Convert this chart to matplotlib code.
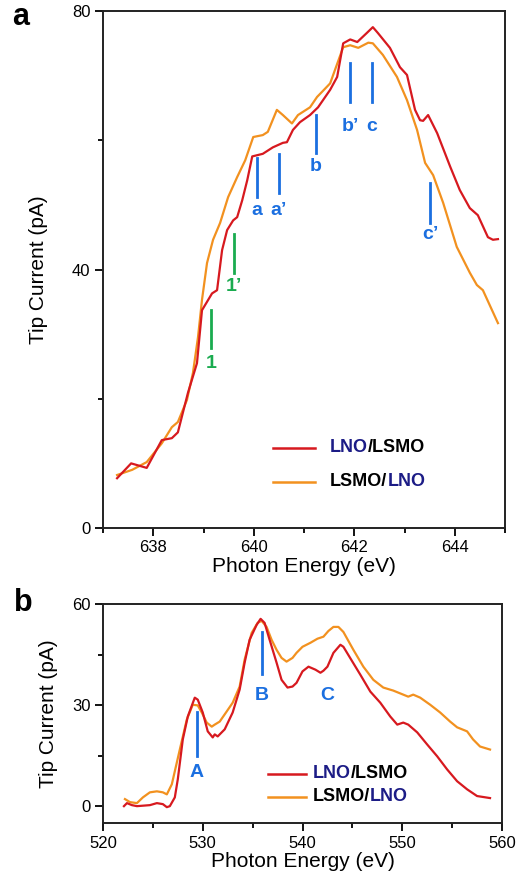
import matplotlib
matplotlib.use("Agg")
import matplotlib.pyplot as plt
from matplotlib.ticker import MultipleLocator

plt.rcParams['font.family'] = ['Liberation Sans', 'DejaVu Sans']

RED = '#d7191f'
ORANGE = '#f2911f'
BLUE = '#1b6fe0'
GREEN = '#1aab4f'
NAVY = '#1c1c86'

# ---- panel a: Mn L3 edge ----
a_red_x = [637.28, 637.56, 637.87, 638.17, 638.37, 638.49, 638.69, 638.87, 638.97, 639.07,
           639.17, 639.27, 639.37, 639.47, 639.59, 639.67, 639.77, 639.87, 639.97, 640.18,
           640.38, 640.58, 640.66, 640.78, 640.92, 641.12, 641.28, 641.52, 641.66, 641.78,
           641.92, 642.06, 642.25, 642.37, 642.47, 642.71, 642.91, 643.05, 643.21, 643.31,
           643.37, 643.47, 643.65, 643.91, 644.10, 644.30, 644.46, 644.66, 644.76, 644.86]
a_red_y = [7.7, 10.0, 9.3, 13.6, 13.9, 14.8, 20.9, 25.5, 33.7, 35.0,
           36.3, 36.8, 43.0, 46.1, 47.6, 48.1, 50.7, 53.8, 57.5, 57.9,
           58.9, 59.6, 59.7, 61.6, 62.8, 63.9, 65.1, 67.8, 69.8, 75.0,
           75.6, 75.2, 76.6, 77.5, 76.6, 74.3, 71.3, 70.1, 64.7, 63.1,
           63.0, 63.9, 61.1, 55.9, 52.3, 49.5, 48.4, 45.0, 44.6, 44.7]

a_orange_x = [637.28, 637.58, 637.87, 638.17, 638.37, 638.49, 638.67, 638.79, 638.89, 638.97,
              639.07, 639.19, 639.33, 639.49, 639.67, 639.83, 639.99, 640.18, 640.28, 640.46,
              640.58, 640.76, 640.88, 641.12, 641.26, 641.36, 641.52, 641.78, 641.92, 642.08,
              642.28, 642.37, 642.57, 642.85, 643.05, 643.25, 643.41, 643.57, 643.77, 644.04,
              644.30, 644.44, 644.56, 644.86]
a_orange_y = [8.2, 9.0, 10.2, 13.1, 15.6, 16.4, 19.8, 24.0, 29.5, 35.3,
              41.0, 44.6, 47.2, 51.2, 54.3, 56.9, 60.5, 60.8, 61.3, 64.7,
              63.9, 62.6, 63.9, 65.1, 66.7, 67.5, 68.8, 74.4, 74.7, 74.3,
              75.1, 75.0, 73.2, 69.8, 66.2, 61.6, 56.5, 54.6, 50.3, 43.5,
              39.5, 37.6, 36.8, 31.7]

# peak markers: label, x, line bottom, line top, label y
a_mark_labels = ['1', "1\u2019", 'a', "a\u2019", 'b', "b\u2019", 'c', "c\u2019"]
a_mark_x = [639.15, 639.61, 640.06, 640.50, 641.24, 641.92, 642.35, 643.51]
a_mark_y0 = [27.8, 39.4, 51.2, 51.8, 58.0, 65.9, 65.9, 47.2]
a_mark_y1 = [33.7, 45.5, 57.2, 57.9, 63.9, 71.9, 71.9, 53.4]
a_mark_ty = [25.4, 37.4, 49.1, 49.1, 56.0, 62.2, 62.2, 45.4]
a_mark_col = [GREEN, GREEN, BLUE, BLUE, BLUE, BLUE, BLUE, BLUE]

# ---- panel b: O K edge ----
b_red_x = [522.1, 522.4, 522.9, 523.4, 524.7, 525.4, 526.0, 526.4, 526.7, 527.2,
           527.5, 528.0, 528.5, 529.2, 529.5, 530.0, 530.5, 531.0, 531.2, 531.5,
           532.2, 533.0, 533.7, 534.2, 534.7, 535.4, 535.8, 536.2, 536.7, 537.4,
           537.9, 538.5, 539.0, 539.4, 540.0, 540.6, 541.3, 541.8, 542.1, 542.5,
           543.1, 543.8, 544.1, 545.0, 545.8, 546.8, 547.8, 548.8, 549.5, 550.1,
           550.6, 551.5, 552.5, 553.5, 554.5, 555.5, 556.5, 557.5, 558.8]
b_red_y = [0.0, 0.9, 0.3, 0.0, 0.3, 0.9, 0.6, -0.3, 0.0, 2.6,
           8.0, 19.8, 26.6, 32.2, 31.6, 27.8, 22.2, 20.4, 21.3, 20.7,
           22.8, 27.8, 34.6, 42.6, 49.4, 53.8, 55.6, 54.4, 49.4, 42.6,
           37.5, 35.2, 35.5, 36.6, 40.0, 41.4, 40.5, 39.6, 40.2, 41.4,
           45.5, 47.9, 47.3, 42.9, 39.0, 34.0, 30.7, 26.6, 24.2, 24.8,
           24.2, 21.9, 18.3, 14.8, 10.9, 7.4, 5.0, 3.0, 2.4]

b_orange_x = [522.2, 522.7, 523.4, 524.0, 524.7, 525.4, 526.0, 526.4, 526.9, 527.7,
              528.4, 529.0, 529.5, 529.9, 530.4, 530.9, 531.2, 531.7, 532.4, 533.0,
              533.7, 534.2, 534.9, 535.5, 535.9, 536.4, 536.9, 537.4, 537.9, 538.4,
              539.0, 539.4, 540.0, 540.8, 541.5, 542.1, 542.6, 543.1, 543.6, 544.1,
              545.1, 546.1, 547.1, 548.1, 549.1, 550.1, 550.6, 551.1, 551.8, 552.8,
              553.8, 554.8, 555.5, 556.5, 557.1, 557.8, 558.8]
b_orange_y = [2.1, 1.2, 0.9, 2.6, 4.1, 4.4, 4.1, 3.5, 6.5, 16.8,
              25.7, 30.1, 29.9, 27.8, 24.8, 23.6, 24.2, 25.1, 28.1, 30.7,
              35.5, 43.5, 51.4, 54.4, 55.0, 53.2, 49.4, 46.4, 44.0, 42.9,
              44.0, 45.5, 47.3, 48.5, 49.7, 50.3, 52.0, 53.2, 53.2, 51.7,
              46.4, 41.4, 37.5, 35.2, 34.3, 33.1, 32.5, 33.1, 32.2, 30.1,
              27.8, 25.1, 23.4, 22.2, 19.8, 17.7, 16.8]

b_mark_labels = ['A', 'B', 'C']
b_mark_x = [529.4, 535.9, 542.5]
b_mark_y0 = [14.8, 39.3, None]
b_mark_y1 = [27.8, 51.7, None]
b_mark_ty = [10.0, 32.8, 32.8]

legend_names = [('LNO', '/LSMO'), ('LSMO/', 'LNO')]
legend_cols = [(NAVY, 'black'), ('black', NAVY)]


def style_axes(ax):
    for s in ax.spines.values():
        s.set_linewidth(1.4)
        s.set_color('#222222')
    ax.tick_params(which='major', direction='out', length=6, width=1.3,
                   labelsize=12, pad=3, top=False, right=False)
    ax.tick_params(which='minor', direction='out', length=3.5, width=1.3,
                   top=False, right=False)


def draw_legend(ax, x0, x1, xt, ys):
    for (first, second), (c1, c2), yy, lc in zip(legend_names, legend_cols, ys, [RED, ORANGE]):
        ax.plot([x0, x1], [yy, yy], color=lc, lw=1.8, transform=ax.transAxes)
        t = ax.text(xt, yy, first, color=c1, fontsize=13, fontweight='bold',
                    va='center', ha='left', transform=ax.transAxes)
        ax.annotate(second, xy=(1, 0), xycoords=t, va='bottom', ha='left',
                    color=c2, fontsize=13, fontweight='bold')


fig = plt.figure(figsize=(5.16, 8.84), dpi=100)

# panel a
ax1 = fig.add_axes([103 / 516, 1 - 528 / 884, 402 / 516, 517 / 884])
ax1.plot(a_red_x, a_red_y, color=RED, lw=1.6, zorder=3)
ax1.plot(a_orange_x, a_orange_y, color=ORANGE, lw=1.6, zorder=2)
for lab, x, y0, y1, ty, c in zip(a_mark_labels, a_mark_x, a_mark_y0, a_mark_y1,
                                  a_mark_ty, a_mark_col):
    ax1.plot([x, x], [y0, y1], color=c, lw=2)
    ax1.text(x, ty, lab, color=c, fontsize=14, fontweight='bold', ha='center', va='center')
ax1.set_xlim(637, 645)
ax1.set_ylim(0, 80)
ax1.xaxis.set_major_locator(MultipleLocator(2))
ax1.xaxis.set_minor_locator(MultipleLocator(1))
ax1.yaxis.set_major_locator(MultipleLocator(40))
ax1.yaxis.set_minor_locator(MultipleLocator(20))
style_axes(ax1)
ax1.set_xlabel('Photon Energy (eV)', fontsize=15, labelpad=1)
ax1.set_ylabel('Tip Current (pA)', fontsize=15)
ax1.yaxis.set_label_coords(-0.137, 0.5)
draw_legend(ax1, 0.423, 0.527, 0.565, [0.155, 0.089])

# panel b
ax2 = fig.add_axes([103 / 516, 1 - 823 / 884, 399 / 516, 219 / 884])
ax2.plot(b_red_x, b_red_y, color=RED, lw=1.6, zorder=3)
ax2.plot(b_orange_x, b_orange_y, color=ORANGE, lw=1.6, zorder=2)
for lab, x, y0, y1, ty in zip(b_mark_labels, b_mark_x, b_mark_y0, b_mark_y1, b_mark_ty):
    if y0 is not None:
        ax2.plot([x, x], [y0, y1], color=BLUE, lw=2)
    ax2.text(x, ty, lab, color=BLUE, fontsize=14, fontweight='bold', ha='center', va='center')
ax2.set_xlim(520, 560)
ax2.set_ylim(-5, 60)
ax2.xaxis.set_major_locator(MultipleLocator(10))
ax2.xaxis.set_minor_locator(MultipleLocator(5))
ax2.yaxis.set_major_locator(MultipleLocator(30))
ax2.yaxis.set_minor_locator(MultipleLocator(15))
style_axes(ax2)
ax2.set_xlabel('Photon Energy (eV)', fontsize=15, labelpad=1)
ax2.set_ylabel('Tip Current (pA)', fontsize=15)
ax2.yaxis.set_label_coords(-0.113, 0.5)
draw_legend(ax2, 0.414, 0.509, 0.526, [0.224, 0.119])

fig.text(12 / 516, 1 - 25 / 884, 'a', fontsize=22, fontweight='bold', va='baseline')
fig.text(14 / 516, 1 - 611 / 884, 'b', fontsize=22, fontweight='bold', va='baseline')

fig.savefig('out.png', dpi=100)
